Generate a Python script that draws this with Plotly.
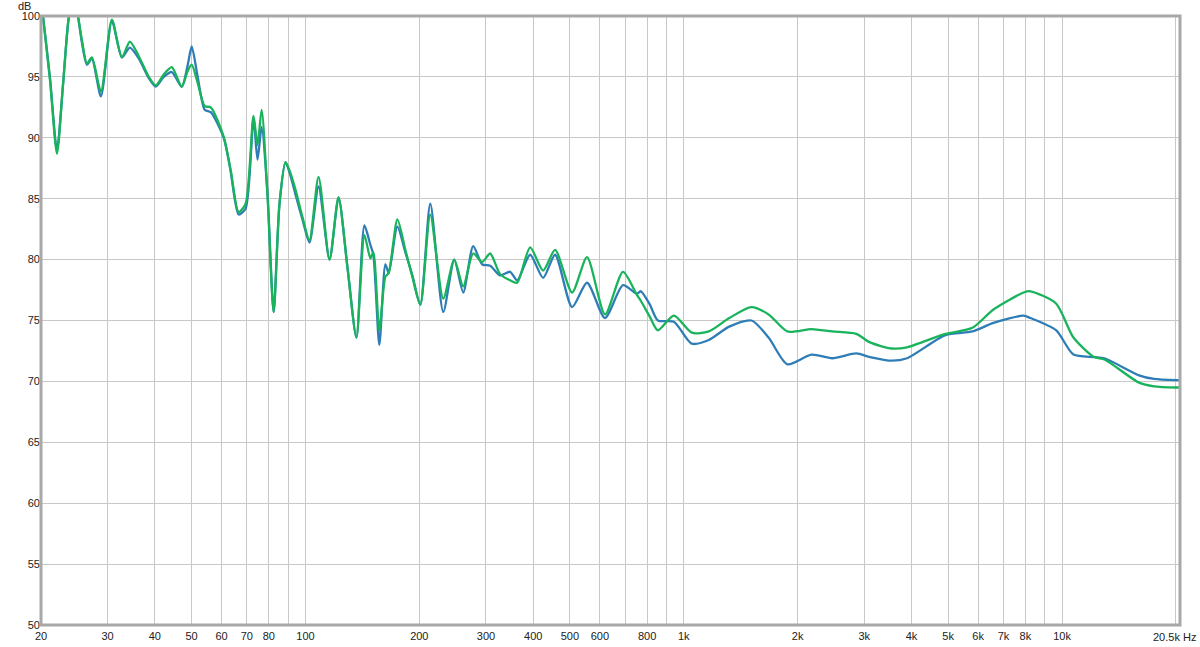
import plotly.graph_objects as go

freq_hz = [20, 20.24, 21.13, 22.04, 22.86, 23.71, 24.4, 25.04, 25.66, 26.45, 27.26, 28.8,
           30.79, 32.72, 34.35, 36.27, 38.55, 40.22, 42.22, 44.33, 47.1, 48.86, 50.05, 51.9,
           54.18, 56.2, 60.8, 63.4, 66.6, 69.5, 72.9, 74.7, 76.6, 79.4, 82.4, 85.4, 88.6,
           91.3, 94.2, 98.2, 102.5, 108.3, 115.8, 122.3, 129.1, 136.4, 143.2, 148.5, 151.2,
           156.8, 162.7, 166, 175, 183.7, 191.7, 201.2, 213.8, 231.4, 247.4, 261.3, 277.6,
           293.3, 307.9, 327.1, 347.6, 362.7, 392.6, 424.9, 457, 506.8, 555.1, 619.3, 690.9,
           752, 770.5, 813.8, 854.3, 941.6, 1050, 1165, 1319, 1510, 1676, 1879, 2176, 2468,
           2858, 3106, 3550, 3894, 4917, 5796, 6587, 7914, 8247, 9640, 10718, 12158, 12950,
           15970, 17500, 20000, 20500]

green_db = [101.5, 100.0, 94.7, 88.7, 94.3, 100.0, 101.5, 100.0, 98.0, 96.1, 96.6, 93.8,
            99.7, 96.6, 97.9, 96.7, 95.0, 94.3, 95.2, 95.8, 94.2, 95.5, 96.0, 94.5,
            92.6, 92.5, 90.1, 87.4, 83.9, 84.6, 91.8, 89.4, 92.3, 85.2, 75.7, 84.6, 88.0,
            87.1, 85.7, 83.5, 81.6, 86.8, 80.0, 85.1, 79.4, 73.6, 82.0, 80.1, 80.6,
            74.2, 78.6, 78.9, 83.3, 80.8, 78.6, 76.3, 83.7, 76.8, 80.0, 77.8, 80.5,
            79.8, 80.5, 78.8, 78.3, 78.1, 81.0, 79.1, 80.8, 77.3, 80.2, 75.5, 79.0,
            77.1, 76.6, 75.3, 74.2, 75.4, 74.0, 74.1, 75.2, 76.1, 75.5, 74.1, 74.3, 74.1,
            73.9, 73.2, 72.7, 72.8, 73.9, 74.4, 75.9, 77.3, 77.4, 76.4, 73.6, 72.0, 71.8,
            69.9, 69.6, 69.5, 69.5]

blue_db = [101.5, 100.0, 94.9, 89.0, 94.3, 100.0, 101.5, 100.0, 97.8, 96.0, 96.5, 93.4,
           99.6, 96.6, 97.4, 96.5, 94.9, 94.2, 95.0, 95.4, 94.2, 96.0, 97.5, 95.0,
           92.3, 92.1, 90.0, 87.3, 83.7, 84.2, 91.6, 88.2, 90.9, 85.4, 75.7, 84.6, 88.0,
           86.9, 85.3, 83.3, 81.4, 86.0, 80.0, 85.1, 79.4, 73.6, 82.8, 81.2, 80.4,
           73.0, 79.6, 78.9, 82.7, 80.6, 78.7, 76.3, 84.6, 75.7, 80.0, 77.3, 81.1,
           79.6, 79.5, 78.7, 79.0, 78.3, 80.4, 78.5, 80.4, 76.1, 78.1, 75.2, 77.9,
           77.2, 77.4, 76.3, 75.0, 74.9, 73.1, 73.4, 74.5, 75.0, 73.6, 71.4, 72.2, 71.9,
           72.3, 72.0, 71.7, 71.9, 73.8, 74.1, 74.8, 75.4, 75.2, 74.2, 72.2, 72.0, 71.9,
           70.5, 70.2, 70.1, 70.1]

grid_hz = [20, 30, 40, 50, 60, 70, 80, 90, 100, 200, 300, 400, 500, 600, 700, 800, 900,
           1000, 2000, 3000, 4000, 5000, 6000, 7000, 8000, 9000, 10000, 20000]
grid_labels = ["20", "30", "40", "50", "60", "70", "80", "", "100", "200", "300", "400",
               "500", "600", "", "800", "", "1k", "2k", "3k", "4k", "5k", "6k", "7k", "8k",
               "", "10k", ""]
end_label = "20.5k Hz"
db_ticks = [50, 55, 60, 65, 70, 75, 80, 85, 90, 95, 100]

fig = go.Figure()
fig.add_trace(go.Scatter(x=freq_hz, y=blue_db, mode="lines",
                         line=dict(color="#2f7db6", width=2.3, shape="spline", smoothing=0.7),
                         showlegend=False, hoverinfo="skip"))
fig.add_trace(go.Scatter(x=freq_hz, y=green_db, mode="lines",
                         line=dict(color="#19b35c", width=2.3, shape="spline", smoothing=0.7),
                         showlegend=False, hoverinfo="skip"))

font = dict(family="Liberation Sans, Arial, sans-serif", size=11, color="#222222")
fig.update_layout(
    width=1200, height=647,
    margin=dict(l=41, r=20, t=16, b=22, autoexpand=False),
    paper_bgcolor="white", plot_bgcolor="white",
    font=font,
    xaxis=dict(type="log", range=[1.30103, 4.31175], tickvals=grid_hz, ticktext=grid_labels,
               showgrid=True, gridcolor="#c8c8c8", gridwidth=1, zeroline=False,
               showline=False, ticks="", tickfont=font, automargin=False,
               ticklabelstandoff=3),
    yaxis=dict(range=[50, 100], tickvals=db_ticks, showgrid=True, gridcolor="#c8c8c8",
               gridwidth=1, zeroline=False, showline=False, ticks="", tickfont=font,
               automargin=False),
    shapes=[dict(type="rect", xref="paper", yref="paper", x0=0, x1=1, y0=0, y1=1,
                 line=dict(color="#a8a8a8", width=3), layer="above")],
    annotations=[
        dict(text="dB", xref="paper", yref="paper", x=0, y=1, xanchor="right",
             yanchor="middle", xshift=-8, yshift=10, showarrow=False, font=font),
        dict(text=end_label, xref="paper", yref="paper", x=1, y=0, xanchor="right",
             yanchor="top", xshift=18, yshift=-4, showarrow=False, font=font),
    ],
)

fig.write_html("out.html", config={"displayModeBar": False},
               post_script="document.body.style.margin='0px';document.body.style.overflow='hidden';")
